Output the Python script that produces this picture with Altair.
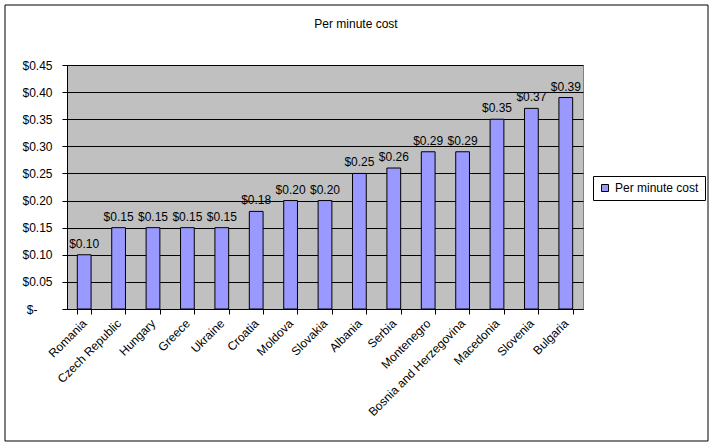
import altair as alt
import pandas as pd

countries = ["Romania", "Czech Republic", "Hungary", "Greece", "Ukraine", "Croatia",
             "Moldova", "Slovakia", "Albania", "Serbia", "Montenegro",
             "Bosnia and Herzegovina", "Macedonia", "Slovenia", "Bulgaria"]
costs = [0.10, 0.15, 0.15, 0.15, 0.15, 0.18, 0.20, 0.20, 0.25, 0.26, 0.29, 0.29, 0.35, 0.37, 0.39]
series_name = "Per minute cost"
title_text = "Per minute cost"
y_ticks = [0, 0.05, 0.10, 0.15, 0.20, 0.25, 0.30, 0.35, 0.40, 0.45]

df = pd.DataFrame({"country": countries, "cost": costs, "series": [series_name] * len(countries)})
one = pd.DataFrame({"t": [title_text]})

FONT = "Liberation Sans"

x_enc = alt.X("country:N", sort=countries,
              scale=alt.Scale(paddingInner=0.6, paddingOuter=0.3),
              axis=alt.Axis(title=None, labelAngle=-45, labelAlign="right", labelBaseline="middle",
                            labelPadding=7, tickBand="extent", tickSize=5, tickColor="black",
                            domainColor="black", labelColor="black", labelFontSize=12,
                            labelFont=FONT, grid=False))
y_enc = alt.Y("cost:Q", scale=alt.Scale(domain=[0, 0.45], nice=False),
              axis=alt.Axis(title=None, values=y_ticks, tickSize=5, tickColor="black",
                            domainColor="black", gridColor="black", gridOpacity=1, grid=True,
                            labelOverlap=False,
                            labelPadding={"condition": {"test": "datum.value == 0", "value": 25}, "value": 10},
                            labelFontSize=12, labelFont=FONT, labelColor="black",
                            labelExpr="datum.value == 0 ? '$-' : '$' + format(datum.value, '.2f')"))

bars = alt.Chart(df).mark_bar(stroke="black", strokeWidth=1).encode(
    x=x_enc, y=y_enc,
    color=alt.Color("series:N", scale=alt.Scale(range=["#9999FF"]),
                    legend=alt.Legend(title=None, orient="none", legendX=526, legendY=111,
                                      strokeColor="black", fillColor="white", padding=6,
                                      symbolType="square", symbolSize=49,
                                      symbolStrokeColor="black", symbolStrokeWidth=1,
                                      labelFontSize=12, labelFont=FONT, labelColor="black"))
)

labels = alt.Chart(df).mark_text(baseline="alphabetic", dy=-7, fontSize=12, font=FONT, color="black").encode(
    x=x_enc, y=y_enc, text=alt.Text("cost:Q", format="$.2f")
)

title = alt.Chart(one).mark_text(fontSize=12, font=FONT, color="black", baseline="alphabetic").encode(
    x=alt.value(289), y=alt.value(-37), text="t:N"
)

border = alt.Chart(one).mark_rect(fill=None, stroke="black", strokeWidth=1).encode(
    x=alt.value(-62), x2=alt.value(641), y=alt.value(-60), y2=alt.value(376)
)

chart = alt.layer(bars, labels, title, border).properties(
    width=516, height=244,
    padding={"left": 67, "top": 65, "right": 131, "bottom": 137},
    autosize=alt.AutoSizeParams(type="none"),
    background="white",
).configure_view(fill="#C0C0C0", stroke="#808080", strokeWidth=1)

chart.save("out.html", embed_options={"renderer": "svg", "actions": False})
